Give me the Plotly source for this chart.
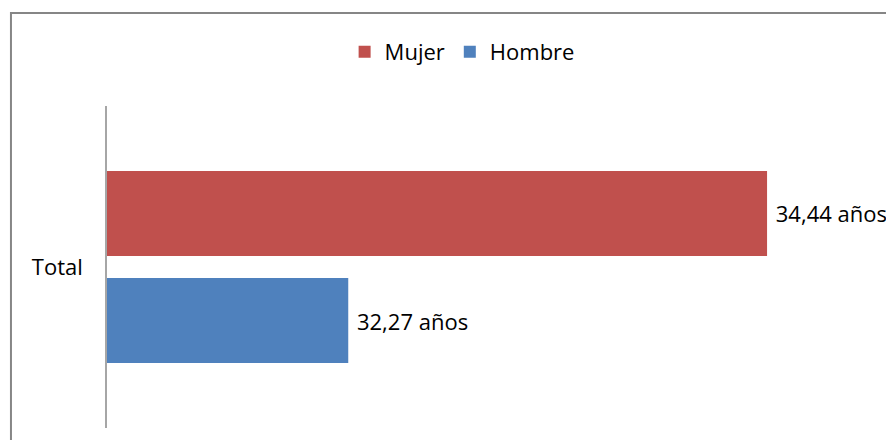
import plotly.graph_objects as go

categories = ["Total"]
mujer = [34.44]
hombre = [32.27]
labels_mujer = ["34,44 años"]
labels_hombre = ["32,27 años"]

red = "#C0504D"
blue = "#4F81BD"
font = "Open Sans"

fig = go.Figure()
# plotly draws the first horizontal trace at the bottom, so Hombre goes first
fig.add_trace(go.Bar(y=categories, x=hombre, name="Hombre", orientation="h",
                     marker=dict(color=blue, line=dict(width=0)),
                     text=labels_hombre, texttemplate="\u00a0%{text}", textposition="outside",
                     textfont=dict(family=font, size=22, color="#000000"),
                     cliponaxis=False, constraintext="none", legendrank=2))
fig.add_trace(go.Bar(y=categories, x=mujer, name="Mujer", orientation="h",
                     marker=dict(color=red, line=dict(width=0)),
                     text=labels_mujer, texttemplate="\u00a0%{text}", textposition="outside",
                     textfont=dict(family=font, size=22, color="#000000"),
                     cliponaxis=False, constraintext="none", legendrank=1))

# page body has an 8px margin, so the figure is a bit smaller than the window
fig.update_layout(
    width=878, height=432,
    margin=dict(l=99, r=7, t=98, b=12),
    paper_bgcolor="white", plot_bgcolor="white",
    barmode="group", bargap=0.335, bargroupgap=0.206,
    font=dict(family=font, size=22, color="#000000"),
    showlegend=True,
    legend=dict(orientation="h", x=0.46, xanchor="center", y=1.168, yanchor="middle",
                font=dict(family=font, size=22), itemwidth=30),
    xaxis=dict(range=[31.02, 35.02], visible=False, fixedrange=True),
    yaxis=dict(showline=True, linecolor="#A6A6A6", linewidth=1.5, ticks="",
               showgrid=False, ticklabelstandoff=18, fixedrange=True),
)

# chart frame, cut off on the right and bottom like the original
fig.add_shape(type="rect", xref="paper", yref="paper",
              x0=-0.1244, x1=1.2, y0=-0.3, y1=1.289,
              line=dict(color="#868686", width=2), fillcolor="rgba(0,0,0,0)", layer="below")

fig.write_html("out.html")
